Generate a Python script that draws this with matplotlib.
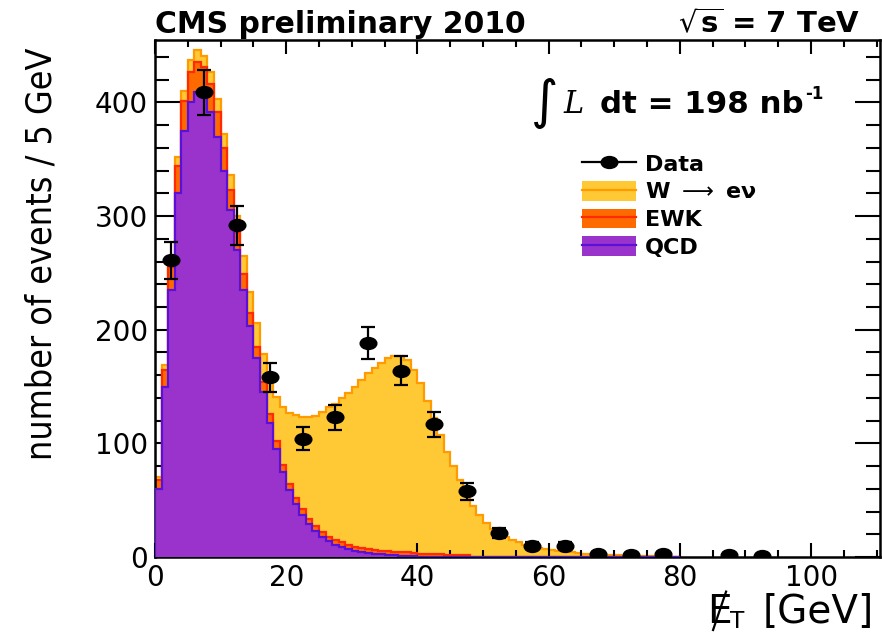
import numpy as np
import matplotlib
matplotlib.use("Agg")
import matplotlib.pyplot as plt
from matplotlib.lines import Line2D
from matplotlib.patches import Patch
from matplotlib.path import Path
from matplotlib.transforms import Affine2D
from matplotlib.ticker import MultipleLocator
from matplotlib import font_manager as fm

# ---------------- data (counts per 5 GeV, 1 GeV wide bins) ----------------
bin_width = 1.0
n_bins = 80
qcd = [60, 150, 235, 320, 375, 400, 409, 405, 392, 370,
       340, 305, 270, 235, 203, 175, 145, 118, 95, 75,
       59, 47, 37, 29, 23, 18, 14, 11, 9, 7,
       5.5, 4.5, 3.5, 3, 2.5, 2, 1.5, 1, 1, 0.5]
ewk = [8, 15, 20, 24, 26, 27, 27, 26, 24, 22,
       20, 18, 16, 14, 12, 10, 9, 8, 7, 6,
       5.5, 5, 5, 4.5, 4.5, 4, 4, 4, 4, 3.5,
       3.5, 3.5, 3.5, 3, 3, 3, 3, 3, 3, 3,
       3, 2.5, 2.5, 2.5, 2, 2, 2, 1.5]
wenu = [2, 4, 6, 8, 9, 10, 10, 10, 11, 11,
        12, 13, 14, 16, 18, 21, 25, 33, 39, 51,
        62, 73, 81, 90, 97, 106, 114, 120, 127, 134,
        141, 148, 155, 160, 165, 170, 172, 173, 169, 161,
        150, 135, 119.5, 104.5, 90.5, 78, 66, 54.5, 45, 37,
        30, 25, 21, 18, 15, 13, 11, 9, 8, 7,
        6, 5, 4.5, 4, 3.5, 3, 2.5, 2, 2, 1.5,
        1.5, 1, 1, 1, 0.5, 0.5, 0.5, 0.5]

data_x = [2.5, 7.5, 12.5, 17.5, 22.5, 27.5, 32.5, 37.5, 42.5, 47.5,
          52.5, 57.5, 62.5, 67.5, 72.5, 77.5, 87.5, 92.5]
data_y = [261, 409, 292, 158, 104, 123, 188, 164, 117, 58,
          21, 10, 10, 3, 2, 3, 2, 1]
data_err = [16, 20, 17, 12.5, 10, 11, 14, 13, 11, 7.5,
            4.5, 3.2, 3.2, 1.7, 1.4, 1.7, 1.4, 1]

labels = ["Data", "W $\\longrightarrow$ e\u03bd", "EWK", "QCD"]

# ---------------- styling ----------------
W_FILL, W_LINE = "#FFC935", "#FF9A00"
E_FILL, E_LINE = "#FF6A00", "#FF2A00"
Q_FILL, Q_LINE = "#9933CC", "#5A10D8"

plt.rcParams["font.family"] = ["DejaVu Sans"]
plt.rcParams["mathtext.fontset"] = "dejavusans"

# horizontally elongated data marker (as in the reference)
ellipse = Path.unit_circle().transformed(Affine2D().scale(1.4, 1.0))

W, H = 882, 638
fig = plt.figure(figsize=(W / 100, H / 100), dpi=100)
ax = fig.add_axes([155 / W, 1 - 557 / H, (880 - 155) / W, (557 - 40) / H])

def pad(a):
    a = np.asarray(a, dtype=float)
    return np.concatenate([a, np.zeros(n_bins - len(a))])

q = pad(qcd)
e = pad(ewk)
w = pad(wenu)
edges = np.arange(n_bins + 1) * bin_width
s1 = q
s2 = q + e
s3 = q + e + w

ax.stairs(s3, edges, fill=True, color=W_FILL, zorder=1)
ax.stairs(s3, edges, color=W_LINE, lw=1.6, zorder=1.1)
ax.stairs(s2, edges, fill=True, color=E_FILL, zorder=2)
ax.stairs(s2, edges, color=E_LINE, lw=1.6, zorder=2.1)
ax.stairs(s1, edges, fill=True, color=Q_FILL, zorder=3)
ax.stairs(s1, edges, color=Q_LINE, lw=1.6, zorder=3.1)

ax.errorbar(data_x, data_y, yerr=data_err, fmt="none", ecolor="black",
            capsize=4.7, elinewidth=1.6, capthick=1.6, zorder=5)
ax.plot(data_x, data_y, linestyle="none", marker=ellipse, ms=12,
        color="black", zorder=6)

ax.set_xlim(0, 110.5)
ax.set_ylim(0, 455)
ax.xaxis.set_major_locator(MultipleLocator(20))
ax.xaxis.set_minor_locator(MultipleLocator(5))
ax.yaxis.set_major_locator(MultipleLocator(100))
ax.yaxis.set_minor_locator(MultipleLocator(20))
ax.tick_params(axis="both", which="both", direction="in", top=True, right=True,
               width=1.5, labelsize=20, colors="black")
ax.tick_params(axis="x", which="major", length=10, pad=5)
ax.tick_params(axis="x", which="minor", length=5)
ax.tick_params(axis="y", which="major", length=18, pad=5)
ax.tick_params(axis="y", which="minor", length=10)
for sp in ax.spines.values():
    sp.set_linewidth(1.8)

# ---------------- legend ----------------
handles = [
    Line2D([], [], color="black", marker=ellipse, ms=12, lw=1.6),
    (Patch(facecolor=W_FILL, edgecolor="none"), Line2D([], [], color=W_LINE, lw=1.6)),
    (Patch(facecolor=E_FILL, edgecolor="none"), Line2D([], [], color=E_LINE, lw=1.6)),
    (Patch(facecolor=Q_FILL, edgecolor="none"), Line2D([], [], color=Q_LINE, lw=1.6)),
]
fig.legend(handles, labels, loc="upper left", bbox_to_anchor=(582 / W, 1 - 153 / H),
           bbox_transform=fig.transFigure, frameon=False, borderpad=0,
           borderaxespad=0, handlelength=2.45, handleheight=1.0, labelspacing=0.28,
           handletextpad=0.4, prop={"weight": "bold", "size": 16})

# ---------------- texts ----------------
fig.canvas.draw()
r = fig.canvas.get_renderer()

def ext(t):
    return t.get_window_extent(renderer=r)

def fit_width(t, target):
    wd = ext(t).width
    t.set_fontsize(t.get_fontsize() * target / wd)

t_cms = fig.text(155 / W, 1 - 33 / H, "CMS preliminary 2010", fontsize=20,
                 fontweight="bold", ha="left", va="baseline")
fit_width(t_cms, 372)
t_rs = fig.text(860 / W, 1 - 33 / H, "$\\sqrt{\\mathbf{s}}$ = 7 TeV", fontsize=20,
                fontweight="bold", ha="right", va="baseline")
fit_width(t_rs, 182)

# integral luminosity
fig.text(531 / W, 1 - 103 / H, "\u222b", fontsize=38, ha="left",
         va="center", family="DejaVu Sans")
fig.text(563 / W, 1 - 113 / H, "L", fontsize=22, style="italic",
         family="DejaVu Serif", ha="left", va="baseline")
t_dt = fig.text(600 / W, 1 - 113 / H, "dt = 198 nb", fontsize=21,
                fontweight="bold", ha="left", va="baseline")
fit_width(t_dt, 203)
b = ext(t_dt)
fig.text((b.x1 + 1) / W, 1 - 99 / H, "-1", fontsize=12,
         fontweight="bold", ha="left", va="baseline")

# y label (prefer a condensed face, as in the reference)
def find_condensed():
    best = None
    for f in fm.fontManager.ttflist:
        nm = f.name
        st = str(f.stretch).lower()
        is_cond = ("narrow" in nm.lower() or "condensed" in nm.lower()
                   or st in ("condensed", "semi-condensed", "extra-condensed", "ultra-condensed"))
        if not is_cond:
            continue
        if str(f.style) != "normal":
            continue
        try:
            wt = int(f.weight)
        except Exception:
            wt = 400 if str(f.weight) in ("normal", "regular", "book") else 700
        if wt > 500:
            continue
        score = 0
        if "Liberation" in nm:
            score += 3
        if "DejaVu" in nm:
            score += 2
        if "Roboto" in nm or "Noto Sans" == nm or "Open Sans" in nm:
            score += 1
        if "Mono" in nm or "Serif" in nm or "CJK" in nm:
            score -= 10
        if best is None or score > best[0]:
            best = (score, f.fname)
    return best[1] if best and best[0] > -5 else None

cond_file = find_condensed()
ykw = dict(rotation=90, ha="center", va="center", fontsize=22)
if cond_file:
    ykw["fontproperties"] = fm.FontProperties(fname=cond_file, size=22)
t_y = fig.text(42 / W, 1 - 254 / H, "number of events / 5 GeV", **ykw)
bb = ext(t_y)
t_y.set_fontsize(t_y.get_fontsize() * 412 / bb.height)

# x label: E-slash_T [GeV]
fs_x = 28
base_y = 623
t_gev = fig.text(874 / W, 1 - base_y / H, "[GeV]", fontsize=fs_x, ha="right",
                 va="baseline")
b = ext(t_gev)
t_T = fig.text((b.x0 - 18) / W, 1 - (base_y + 5) / H, "T", fontsize=fs_x * 0.6,
               ha="right", va="baseline")
b = ext(t_T)
t_E = fig.text((b.x0 + 1) / W, 1 - base_y / H, "E", fontsize=fs_x, ha="right",
               va="baseline")
bE = ext(t_E)
cx = (bE.x0 + bE.x1) / 2
cap_px = 0.73 * fs_x * 100 / 72
fig.add_artist(Line2D([(cx - 6) / W, (cx + 7) / W],
                      [1 - (base_y + 7) / H, 1 - (base_y - cap_px - 3) / H],
                      transform=fig.transFigure, color="black", lw=1.6))

fig.savefig("out.png", dpi=100)
